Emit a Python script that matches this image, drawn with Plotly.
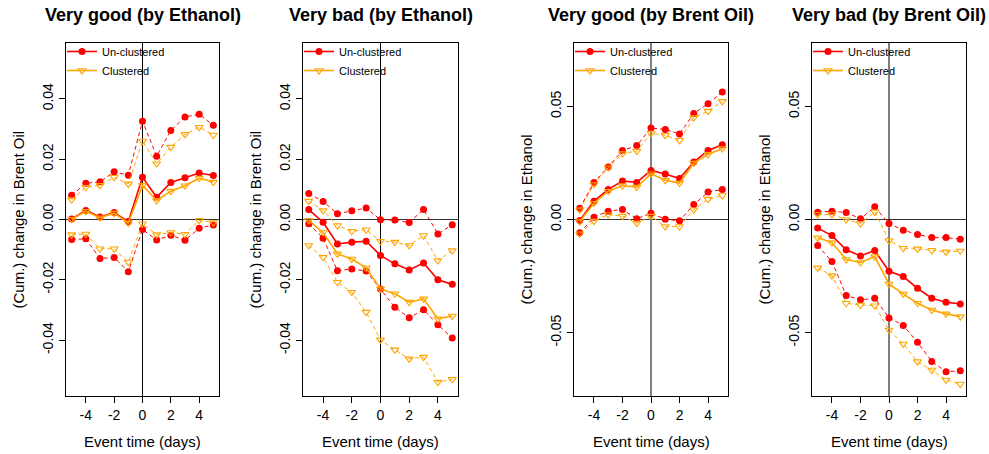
import plotly.graph_objects as go

# Event window (days relative to the event)
days = [-5, -4, -3, -2, -1, 0, 1, 2, 3, 4, 5]

# Very good (by Ethanol) -> cumulative change in Brent Oil
good_eth_unc = [0.0002, 0.0030, 0.0008, 0.0023, -0.0007, 0.0140, 0.0074, 0.0123, 0.0138, 0.0154, 0.0146]
good_eth_unc_hi = [0.0080, 0.0120, 0.0125, 0.0158, 0.0147, 0.0326, 0.0210, 0.0295, 0.0340, 0.0349, 0.0312]
good_eth_unc_lo = [-0.0066, -0.0064, -0.0129, -0.0126, -0.0173, -0.0033, -0.0068, -0.0052, -0.0069, -0.0029, -0.0018]
good_eth_cl = [0.0001, 0.0027, 0.0006, 0.0021, -0.0012, 0.0113, 0.0063, 0.0094, 0.0112, 0.0137, 0.0124]
good_eth_cl_hi = [0.0066, 0.0107, 0.0113, 0.0140, 0.0118, 0.0260, 0.0185, 0.0240, 0.0282, 0.0306, 0.0280]
good_eth_cl_lo = [-0.0050, -0.0048, -0.0097, -0.0097, -0.0141, -0.0014, -0.0050, -0.0043, -0.0049, -0.0003, -0.0010]

# Very bad (by Ethanol) -> cumulative change in Brent Oil
bad_eth_unc = [0.0033, -0.0009, -0.0081, -0.0075, -0.0072, -0.0119, -0.0147, -0.0167, -0.0144, -0.0200, -0.0215]
bad_eth_unc_hi = [0.0086, 0.0060, 0.0019, 0.0029, 0.0038, -0.0001, -0.0002, -0.0010, 0.0033, -0.0048, -0.0017]
bad_eth_unc_lo = [-0.0014, -0.0062, -0.0170, -0.0164, -0.0171, -0.0230, -0.0291, -0.0326, -0.0299, -0.0349, -0.0393]
bad_eth_cl = [-0.0003, -0.0043, -0.0114, -0.0131, -0.0160, -0.0230, -0.0246, -0.0274, -0.0263, -0.0329, -0.0320]
bad_eth_cl_hi = [0.0061, 0.0030, -0.0020, -0.0039, -0.0034, -0.0072, -0.0075, -0.0086, -0.0053, -0.0136, -0.0103]
bad_eth_cl_lo = [-0.0086, -0.0125, -0.0208, -0.0241, -0.0307, -0.0399, -0.0432, -0.0462, -0.0456, -0.0539, -0.0530]

# Very good (by Brent Oil) -> cumulative change in Ethanol
good_oil_unc = [-0.0004, 0.0081, 0.0133, 0.0170, 0.0164, 0.0217, 0.0201, 0.0181, 0.0254, 0.0305, 0.0330]
good_oil_unc_hi = [0.0050, 0.0164, 0.0232, 0.0305, 0.0327, 0.0404, 0.0398, 0.0378, 0.0468, 0.0512, 0.0563]
good_oil_unc_lo = [-0.0059, 0.0010, 0.0037, 0.0044, 0.0003, 0.0028, 0.0001, -0.0006, 0.0066, 0.0121, 0.0133]
good_oil_cl = [-0.0009, 0.0072, 0.0125, 0.0150, 0.0143, 0.0202, 0.0173, 0.0161, 0.0249, 0.0288, 0.0313]
good_oil_cl_hi = [0.0043, 0.0155, 0.0229, 0.0291, 0.0302, 0.0382, 0.0372, 0.0350, 0.0450, 0.0479, 0.0522]
good_oil_cl_lo = [-0.0063, -0.0007, 0.0022, 0.0015, -0.0016, 0.0015, -0.0031, -0.0031, 0.0043, 0.0090, 0.0106]

# Very bad (by Brent Oil) -> cumulative change in Ethanol
bad_oil_unc = [-0.0038, -0.0071, -0.0134, -0.0161, -0.0137, -0.0229, -0.0252, -0.0304, -0.0348, -0.0366, -0.0373]
bad_oil_unc_hi = [0.0032, 0.0037, 0.0031, 0.0003, 0.0056, -0.0018, -0.0047, -0.0066, -0.0080, -0.0080, -0.0087]
bad_oil_unc_lo = [-0.0115, -0.0186, -0.0336, -0.0355, -0.0348, -0.0435, -0.0468, -0.0543, -0.0627, -0.0673, -0.0668]
bad_oil_cl = [-0.0081, -0.0102, -0.0177, -0.0190, -0.0164, -0.0285, -0.0329, -0.0370, -0.0400, -0.0417, -0.0429]
bad_oil_cl_hi = [0.0022, 0.0022, 0.0000, -0.0018, 0.0034, -0.0093, -0.0127, -0.0130, -0.0136, -0.0143, -0.0139]
bad_oil_cl_lo = [-0.0214, -0.0248, -0.0370, -0.0378, -0.0381, -0.0488, -0.0550, -0.0628, -0.0665, -0.0709, -0.0727]

# Panel titles, y-axis labels and tick labels
titles = ["Very good (by Ethanol)", "Very bad (by Ethanol)",
          "Very good (by Brent Oil)", "Very bad (by Brent Oil)"]
ylabels = ["(Cum.) change in Brent Oil", "(Cum.) change in Brent Oil",
           "(Cum.) change in Ethanol", "(Cum.) change in Ethanol"]
xlabel = "Event time (days)"
x_ticks = [-4, -2, 0, 2, 4]
x_ticktext = ["-4", "-2", "0", "2", "4"]
y_ticks_oil = [-0.04, -0.02, 0.0, 0.02, 0.04]
y_ticktext_oil = ["-0.04", "-0.02", "0.00", "0.02", "0.04"]
y_ticks_eth = [-0.05, 0.0, 0.05]
y_ticktext_eth = ["-0.05", "0.00", "0.05"]
series_names = ["Un-clustered", "Clustered"]

panels = [
    dict(unc=(good_eth_unc, good_eth_unc_hi, good_eth_unc_lo), cl=(good_eth_cl, good_eth_cl_hi, good_eth_cl_lo),
         yr=0.0585, tv=y_ticks_oil, tt=y_ticktext_oil),
    dict(unc=(bad_eth_unc, bad_eth_unc_hi, bad_eth_unc_lo), cl=(bad_eth_cl, bad_eth_cl_hi, bad_eth_cl_lo),
         yr=0.0585, tv=y_ticks_oil, tt=y_ticktext_oil),
    dict(unc=(good_oil_unc, good_oil_unc_hi, good_oil_unc_lo), cl=(good_oil_cl, good_oil_cl_hi, good_oil_cl_lo),
         yr=0.078, tv=y_ticks_eth, tt=y_ticktext_eth),
    dict(unc=(bad_oil_unc, bad_oil_unc_hi, bad_oil_unc_lo), cl=(bad_oil_cl, bad_oil_cl_hi, bad_oil_cl_lo),
         yr=0.078, tv=y_ticks_eth, tt=y_ticktext_eth),
]

W, H = 989, 454
FONT = "Liberation Sans, Arial, Helvetica, sans-serif"
RED = "#FF0000"
ORANGE = "#FFA500"

# Plot-box pixel extents (left, right) for the four panels; shared top/bottom
boxes = [(66, 219), (303, 458), (574, 728), (812, 966)]
top_px, bot_px = 43, 396
ydom = [1 - bot_px / H, 1 - top_px / H]

fig = go.Figure()
layout = dict(
    width=W, height=H, margin=dict(l=0, r=0, t=0, b=0),
    paper_bgcolor="white", plot_bgcolor="white",
    font=dict(family=FONT, color="black", size=14),
    showlegend=True, annotations=[], shapes=[],
)

for i, (p, (lpx, rpx)) in enumerate(zip(panels, boxes)):
    k = "" if i == 0 else str(i + 1)
    xa, ya = "x" + k, "y" + k
    leg = "legend" + k
    styles = [
        (p["unc"], RED, dict(symbol="circle", size=7, color=RED, line=dict(width=0)), series_names[0]),
        (p["cl"], ORANGE, dict(symbol="triangle-down-open", size=7, color=ORANGE, line=dict(width=1.1, color=ORANGE)), series_names[1]),
    ]
    for (est, hi, lo), col, mk, name in styles:
        for band in (hi, lo):
            fig.add_trace(go.Scatter(
                x=days, y=band, xaxis=xa, yaxis=ya, mode="lines+markers",
                line=dict(color=col, width=1, dash="4px,3px"), marker=mk,
                showlegend=False, hoverinfo="skip"))
        fig.add_trace(go.Scatter(
            x=days, y=est, xaxis=xa, yaxis=ya, mode="lines+markers", name=name,
            line=dict(color=col, width=1.6), marker=mk,
            legend=leg, showlegend=True))

    xdom = [lpx / W, rpx / W]
    layout["xaxis" + k] = dict(
        domain=xdom, anchor=ya, range=[-5.4, 5.4],
        tickmode="array", tickvals=x_ticks, ticktext=x_ticktext,
        ticks="outside", ticklen=6, tickwidth=1, tickcolor="black",
        showline=True, linecolor="black", linewidth=1, mirror=True,
        showgrid=False, zeroline=False, tickfont=dict(size=14, family=FONT),
    )
    layout["yaxis" + k] = dict(
        domain=ydom, anchor=xa, range=[-p["yr"], p["yr"]],
        tickmode="array", tickvals=p["tv"], ticktext=p["tt"], tickangle=-90,
        ticks="outside", ticklen=6, tickwidth=1, tickcolor="black",
        showline=True, linecolor="black", linewidth=1, mirror=True,
        showgrid=False, zeroline=False, tickfont=dict(size=14, family=FONT),
    )
    layout[leg] = dict(
        x=(lpx - 4) / W, y=ydom[1] + 6 / H, xanchor="left", yanchor="top",
        bgcolor="rgba(0,0,0,0)", borderwidth=0, tracegroupgap=0,
        font=dict(size=11, family=FONT), itemwidth=30,
    )
    # reference lines at zero
    layout["shapes"] += [
        dict(type="line", xref=xa + " domain", x0=0, x1=1, yref=ya, y0=0, y1=0,
             line=dict(color="#333333", width=1), layer="below"),
        dict(type="line", xref=xa, x0=0, x1=0, yref=ya + " domain", y0=0, y1=1,
             line=dict(color="black", width=1), layer="below"),
    ]
    cx = (lpx + rpx) / 2 / W
    layout["annotations"] += [
        dict(text="<b>" + titles[i] + "</b>", xref="paper", yref="paper",
             x=cx, y=1 - 15 / H, xanchor="center", yanchor="middle",
             showarrow=False, font=dict(size=18, family=FONT)),
        dict(text=ylabels[i], xref="paper", yref="paper",
             x=(lpx - 48) / W, y=(ydom[0] + ydom[1]) / 2, textangle=-90,
             xanchor="center", yanchor="middle", showarrow=False,
             font=dict(size=15, family=FONT)),
        dict(text=xlabel, xref="paper", yref="paper",
             x=cx, y=1 - 441 / H, xanchor="center", yanchor="middle",
             showarrow=False, font=dict(size=15, family=FONT)),
    ]

fig.update_layout(**layout)
fig.write_html("out.html")
